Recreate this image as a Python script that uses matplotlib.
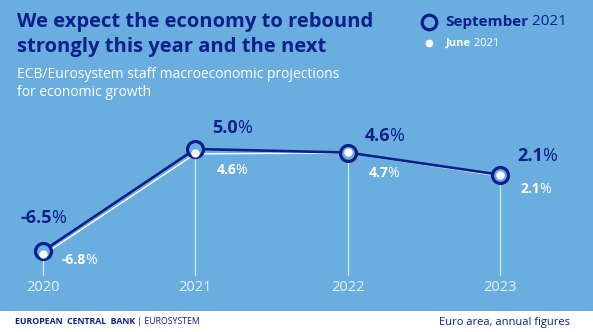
import matplotlib
matplotlib.use("Agg")
import matplotlib.pyplot as plt
from matplotlib.patches import Rectangle
from matplotlib.offsetbox import TextArea, HPacker, AnnotationBbox

# data
years = [2020, 2021, 2022, 2023]
september = [-6.5, 5.0, 4.6, 2.1]
june = [-6.8, 4.6, 4.7, 2.1]
sep_labels = ["-6.5", "5.0", "4.6", "2.1"]
jun_labels = ["-6.8", "4.6", "4.7", "2.1"]

BG = "#6aaee0"
NAVY = "#0c1f8a"
W, H = 593, 332

plt.rcParams["font.family"] = ["Open Sans", "DejaVu Sans"]

fig = plt.figure(figsize=(W / 100, H / 100), dpi=100)
fig.patch.set_facecolor("white")
fig.patches.append(Rectangle((0, 1 - 311 / H), 1, 311 / H, transform=fig.transFigure,
                             facecolor=BG, edgecolor="none", zorder=-5))

# axis covering whole figure; pixel mapping: x=43 at 2020, 152.3 px / year;
# y=251 px at -6.5, 8.87 px / pct point
ax = fig.add_axes([0, 0, 1, 1])
ax.patch.set_alpha(0)
ax.set_xlim(2020 - 43 / 152.3, 2020 + (W - 43) / 152.3)
ax.set_ylim(-6.5 - (H - 251) / 8.87, -6.5 + 251 / 8.87)
ax.axis("off")

base = -6.5 - 24 / 8.87
for x, y in zip(years, september):
    ax.plot([x, x], [base, y], color="white", lw=0.8, alpha=0.8, zorder=1)
    ax.text(x, base - 1.4, str(x), ha="center", va="center", fontsize=10.5,
            color="#e8f1fa", zorder=2)

ax.plot(years, [v - 0.15 for v in june], color="white", lw=1.0, zorder=2)
ax.plot(years, september, color=NAVY, lw=1.9, zorder=3,
        marker="o", markersize=11.5, markerfacecolor=BG,
        markeredgecolor=NAVY, markeredgewidth=2.3)
ax.plot(years, june, linestyle="none", marker="o", markersize=6,
        markerfacecolor="white", markeredgecolor="none", zorder=4)

# label offsets in pixels (dx, dy)
sep_off = [(0, -33), (17, -21), (17, -17), (17, -19)]
jun_off = [(19, 9), (21, 22), (21, 21), (21, 15)]


def pct_label(x, y, txt, dx, dy, size, color, centered=False):
    box = HPacker(children=[
        TextArea(txt, textprops=dict(fontsize=size, fontweight="bold", color=color)),
        TextArea("%", textprops=dict(fontsize=size, color=color)),
    ], align="baseline", pad=0, sep=-0.6)
    ab = AnnotationBbox(box, (x, y), xybox=(dx * 0.72, -dy * 0.72),
                        xycoords="data", boxcoords="offset points",
                        box_alignment=(0.5 if centered else 0, 0.5),
                        frameon=False, pad=0, annotation_clip=False, zorder=5)
    ax.add_artist(ab)


for i, x in enumerate(years):
    dx, dy = sep_off[i]
    pct_label(x, september[i], sep_labels[i], dx, dy, 13, NAVY, centered=(i == 0))
    dx, dy = jun_off[i]
    pct_label(x, september[i], jun_labels[i], dx, dy, 10, "white")

# titles
fig.text(17 / W, 1 - 22 / H, "We expect the economy to rebound", fontsize=14.5,
         fontweight="bold", color=NAVY, va="center")
fig.text(17 / W, 1 - 47 / H, "strongly this year and the next", fontsize=14.5,
         fontweight="bold", color=NAVY, va="center")
fig.text(17 / W, 1 - 74 / H, "ECB/Eurosystem staff macroeconomic projections",
         fontsize=10, color="white", va="center")
fig.text(17 / W, 1 - 92 / H, "for economic growth", fontsize=10,
         color="white", va="center")

# legend
fig.lines.append(plt.Line2D([429 / W], [1 - 22 / H], transform=fig.transFigure,
                            marker="o", markersize=10.5, markerfacecolor=BG,
                            markeredgecolor=NAVY, markeredgewidth=2.3))
fig.lines.append(plt.Line2D([429 / W], [1 - 43 / H], transform=fig.transFigure,
                            marker="o", markersize=5.5, markerfacecolor="white",
                            markeredgecolor="none"))
t1 = fig.text(445 / W, 1 - 22 / H, "September", fontsize=11, fontweight="bold",
              color=NAVY, va="center")
ax.annotate(" 2021", xy=(1, 0), xycoords=t1, ha="left", va="bottom",
            fontsize=11, color=NAVY, annotation_clip=False)
t2 = fig.text(446 / W, 1 - 43 / H, "June", fontsize=8, fontweight="bold",
              color="white", va="center")
ax.annotate(" 2021", xy=(1, 0), xycoords=t2, ha="left", va="bottom",
            fontsize=8, color="white", annotation_clip=False)

# footer
t3 = fig.text(15 / W, 1 - 322 / H, "EUROPEAN  CENTRAL  BANK",
              fontsize=6.3, fontweight="bold", color=NAVY, va="center")
ax.annotate(" | EUROSYSTEM", xy=(1, 0), xycoords=t3, ha="left",
            va="bottom", fontsize=6.3, color=NAVY, annotation_clip=False)
fig.text(570 / W, 1 - 322 / H, "Euro area, annual figures", fontsize=8,
         color=NAVY, va="center", ha="right")

fig.savefig("out.png", dpi=100, facecolor=fig.get_facecolor())
